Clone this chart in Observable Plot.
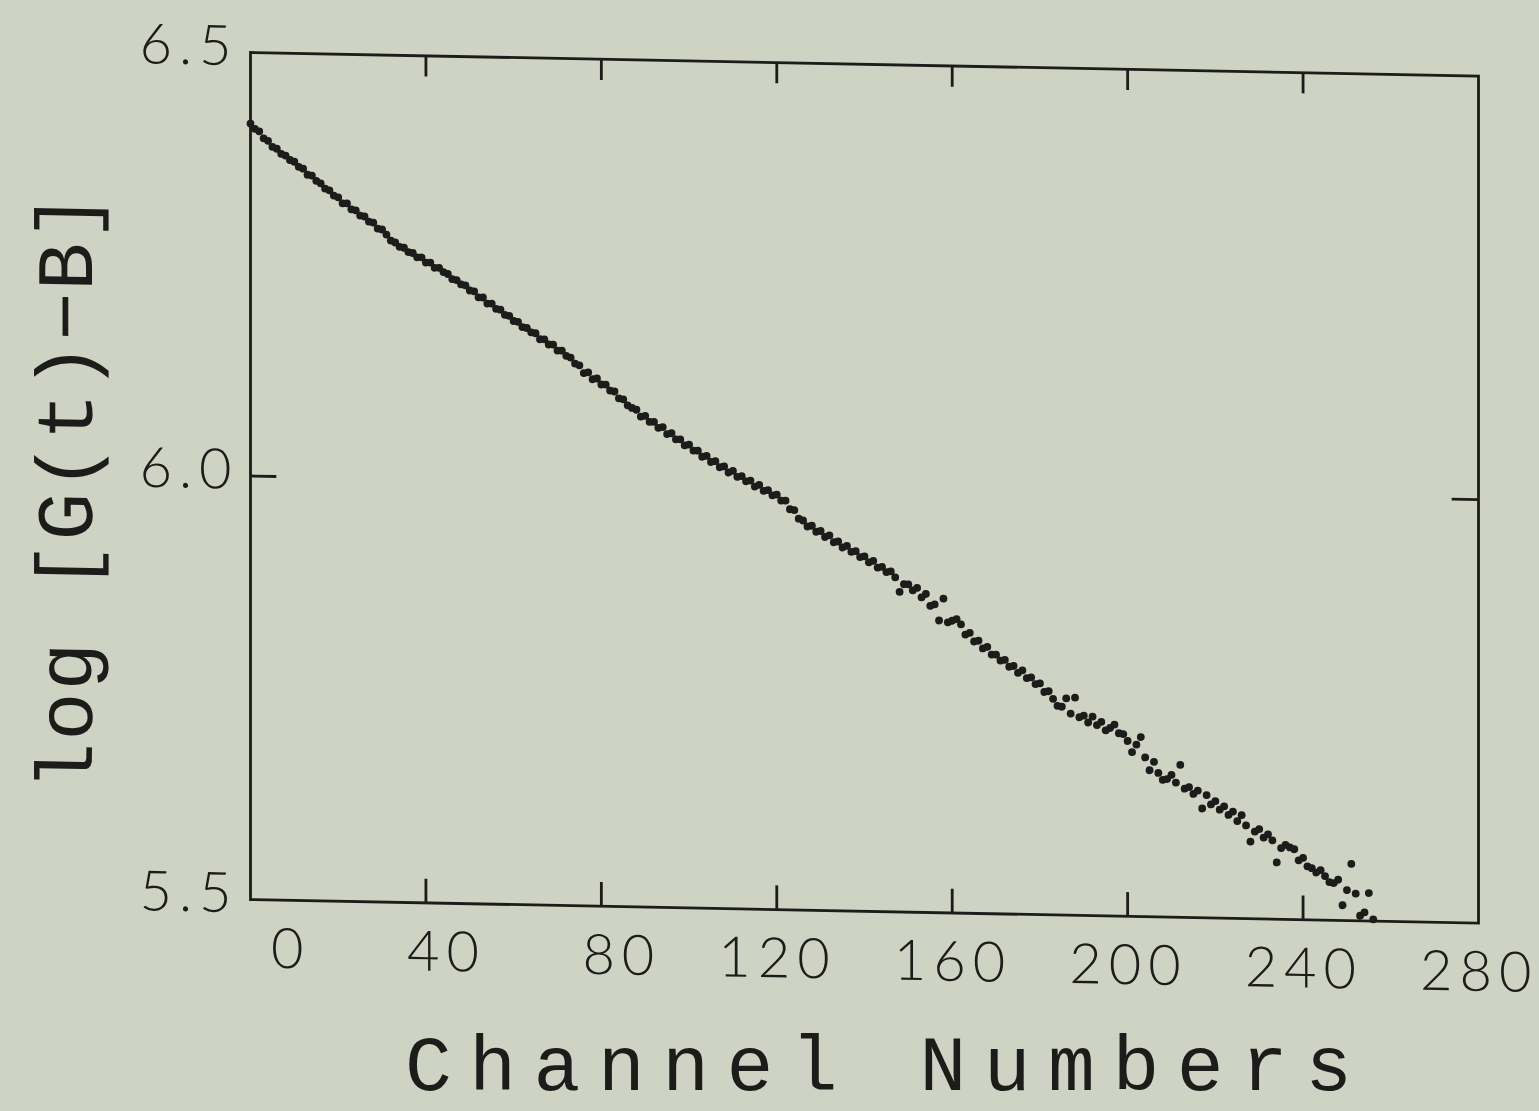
<!DOCTYPE html>
<html>
<head>
<meta charset="utf-8">
<script src="https://cdn.jsdelivr.net/npm/d3@7"></script>
<script src="https://cdn.jsdelivr.net/npm/@observablehq/plot@0.6"></script>
<style>
  html, body { margin: 0; padding: 0; background: #cfd3c3; overflow: hidden; }
  #chart { position: absolute; left: 0; top: 0; width: 1539px; height: 1111px;
           transform: skewY(1.1deg); transform-origin: 250px 0; }
  #chart svg { display: block; overflow: visible; }
  g[aria-label="x-axis tick label"], g[aria-label="y-axis tick label"] { letter-spacing: 7px; }
  #xtitle { position: absolute; left: 405px; top: 1030px; margin: 0; white-space: nowrap;
            font-family: "Liberation Mono", "DejaVu Sans Mono", monospace; font-size: 78px;
            line-height: 78px; letter-spacing: 17.5px; color: #1c1c1a; }
</style>
</head>
<body>
<div id="chart"></div>
<div id="xtitle"></div>
<script>
// log[G(t) - B] read for each channel 0..256
const logValues = [
  6.416, 6.410, 6.407, 6.399, 6.396, 6.389, 6.387, 6.381, 6.379, 6.374,
  6.372, 6.366, 6.364, 6.357, 6.356, 6.350, 6.347, 6.341, 6.339, 6.333,
  6.331, 6.324, 6.324, 6.317, 6.316, 6.310, 6.309, 6.303, 6.302, 6.295,
  6.294, 6.288, 6.281, 6.279, 6.274, 6.273, 6.268, 6.267, 6.262, 6.262,
  6.256, 6.256, 6.250, 6.250, 6.245, 6.243, 6.237, 6.236, 6.231, 6.230,
  6.224, 6.223, 6.216, 6.216, 6.209, 6.209, 6.203, 6.202, 6.196, 6.195,
  6.189, 6.188, 6.182, 6.181, 6.176, 6.175, 6.168, 6.168, 6.162, 6.162,
  6.155, 6.155, 6.149, 6.147, 6.140, 6.138, 6.129, 6.130, 6.122, 6.123,
  6.116, 6.116, 6.109, 6.108, 6.100, 6.099, 6.092, 6.089, 6.087, 6.079,
  6.080, 6.073, 6.073, 6.066, 6.067, 6.059, 6.060, 6.053, 6.053, 6.046,
  6.047, 6.040, 6.040, 6.033, 6.034, 6.027, 6.028, 6.021, 6.022, 6.015,
  6.017, 6.010, 6.011, 6.005, 6.006, 5.999, 6.001, 5.994, 5.995, 5.989,
  5.990, 5.983, 5.983, 5.973, 5.972, 5.962, 5.960, 5.953, 5.954, 5.947,
  5.948, 5.941, 5.943, 5.935, 5.936, 5.929, 5.931, 5.924, 5.925, 5.918,
  5.919, 5.912, 5.914, 5.906, 5.907, 5.901, 5.902, 5.895, 5.878, 5.887,
  5.887, 5.880, 5.883, 5.872, 5.876, 5.862, 5.864, 5.845, 5.871, 5.843,
  5.845, 5.847, 5.841, 5.829, 5.831, 5.821, 5.822, 5.813, 5.815, 5.806,
  5.806, 5.799, 5.800, 5.792, 5.793, 5.785, 5.788, 5.779, 5.780, 5.772,
  5.773, 5.763, 5.764, 5.755, 5.747, 5.746, 5.756, 5.738, 5.757, 5.734,
  5.736, 5.728, 5.735, 5.725, 5.729, 5.719, 5.722, 5.726, 5.716, 5.715,
  5.707, 5.694, 5.703, 5.712, 5.688, 5.673, 5.683, 5.670, 5.662, 5.663,
  5.668, 5.659, 5.680, 5.652, 5.654, 5.646, 5.650, 5.629, 5.645, 5.634,
  5.638, 5.628, 5.632, 5.622, 5.626, 5.615, 5.622, 5.610, 5.591, 5.603,
  5.606, 5.596, 5.600, 5.593, 5.567, 5.584, 5.588, 5.585, 5.583, 5.570,
  5.573, 5.563, 5.561, 5.556, 5.559, 5.552, 5.545, 5.544, 5.548, 5.518,
  5.536, 5.567, 5.532, 5.506, 5.510, 5.533, 5.502
];
const xTicks = [0, 40, 80, 120, 160, 200, 240, 280];
const xInnerTicks = [40, 80, 120, 160, 200, 240];
const yTicks = [5.5, 6.0, 6.5];
const yInnerTicks = [6.0];
const xTitle = "Channel Numbers";
const yTitle = "log [G(t)\u2212B]";

const data = logValues.map((v, i) => ({channel: i, value: v}));
const ink = "#1c1c1a";
const tickFont = "Lato, 'DejaVu Sans', sans-serif";
const titleFont = "'Liberation Mono', 'DejaVu Sans Mono', monospace";

const chart = Plot.plot({
  width: 1539,
  height: 1111,
  marginLeft: 250,
  marginRight: 61,
  marginTop: 52,
  marginBottom: 212,
  style: {background: "transparent", color: ink, overflow: "visible"},
  x: {domain: [0, 280]},
  y: {domain: [5.5, 6.5]},
  marks: [
    Plot.frame({stroke: ink, strokeWidth: 2.8}),
    Plot.ruleX(xInnerTicks, {y1: 5.5, y2: 5.528, stroke: ink, strokeWidth: 2.8}),
    Plot.ruleX(xInnerTicks, {y1: 6.5, y2: 6.475, stroke: ink, strokeWidth: 2.8}),
    Plot.ruleY(yInnerTicks, {x1: 0, x2: 6, stroke: ink, strokeWidth: 2.8}),
    Plot.ruleY(yInnerTicks, {x1: 280, x2: 274, stroke: ink, strokeWidth: 2.8}),
    Plot.axisX(xTicks, {anchor: "bottom", tickSize: 0, tickPadding: 28, textAnchor: "end", dx: 60,
      fontSize: 56, fontWeight: 300, fontFamily: tickFont, label: null}),
    Plot.axisY(yTicks, {anchor: "left", tickSize: 0, tickPadding: 12, tickFormat: d3.format(".1f"),
      dy: -5, fontSize: 56, fontWeight: 300, fontFamily: tickFont, label: null}),
    Plot.text([yTitle], {frameAnchor: "left", rotate: -90, textAnchor: "middle", lineAnchor: "middle",
      dx: -184, dy: 18, fontFamily: titleFont, fontSize: 80, fill: ink}),
    Plot.dot(data, {x: "channel", y: "value", r: 3.9, fill: ink, stroke: "none"})
  ]
});

d3.select(chart).selectAll("text").filter(function() { return this.textContent === yTitle; })
  .style("letter-spacing", "2px");

document.getElementById("chart").appendChild(chart);
document.getElementById("xtitle").textContent = xTitle;
</script>
</body>
</html>
